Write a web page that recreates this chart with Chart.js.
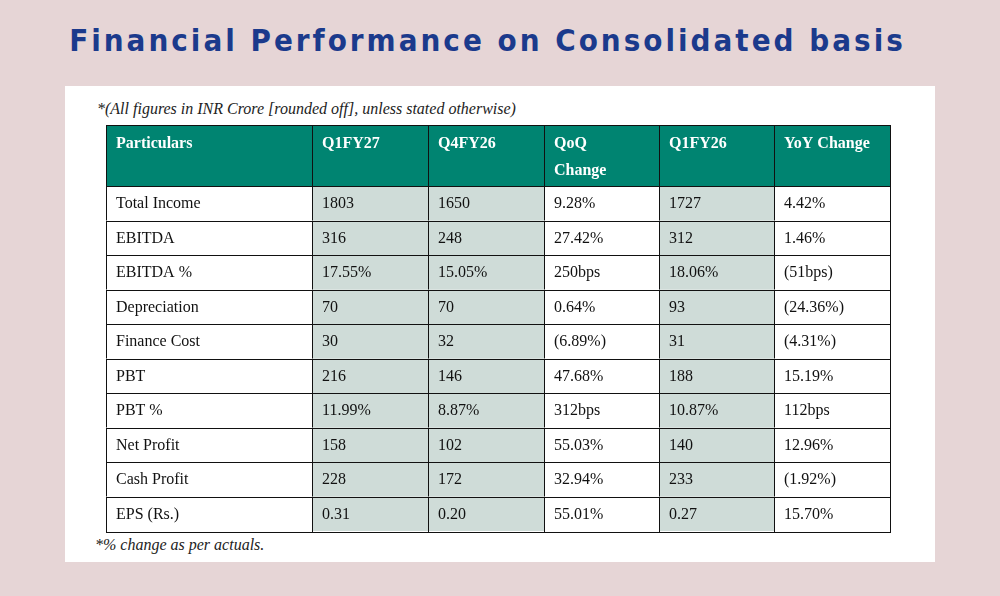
<!DOCTYPE html>
<html>
<head>
<meta charset="utf-8">
<script src="https://cdn.jsdelivr.net/npm/chart.js@4"></script>
<style>
  body { margin: 0; background: #e6d5d6; width: 1000px; height: 596px; overflow: hidden; position: relative; }
  #panel { position: absolute; left: 65px; top: 86px; width: 870px; height: 476px; background: #fff; }
  h1 { position: absolute; left: 0; width: 975px; top: 22px; margin: 0; text-align: center;
       font: bold 31px "DejaVu Sans Condensed", "DejaVu Sans", sans-serif; letter-spacing: 3px; color: #1b3a8c; }
  .note { position: absolute; font: italic 16px "Liberation Serif", serif; color: #222; }
  canvas { position: absolute; left: 0; top: 0; }
</style>
</head>
<body>
<div id="panel"></div>
<h1>Financial Performance on Consolidated basis</h1>
<div class="note" style="left:97px; top:100px;">*(All figures in INR Crore [rounded off], unless stated otherwise)</div>
<div class="note" style="left:95px; top:536px;">*% change as per actuals.</div>
<canvas id="table" width="1000" height="596"></canvas>
<script>
/** Table drawn on a Chart.js canvas through hidden linear scales. */

const headers = ['Particulars', 'Q1FY27', 'Q4FY26', 'QoQ\nChange', 'Q1FY26', 'YoY Change'];
const particulars = ['Total Income', 'EBITDA', 'EBITDA %', 'Depreciation', 'Finance Cost', 'PBT', 'PBT %', 'Net Profit', 'Cash Profit', 'EPS (Rs.)'];
const q1fy27 = ['1803', '316', '17.55%', '70', '30', '216', '11.99%', '158', '228', '0.31'];
const q4fy26 = ['1650', '248', '15.05%', '70', '32', '146', '8.87%', '102', '172', '0.20'];
const qoqChange = ['9.28%', '27.42%', '250bps', '0.64%', '(6.89%)', '47.68%', '312bps', '55.03%', '32.94%', '55.01%'];
const q1fy26 = ['1727', '312', '18.06%', '93', '31', '188', '10.87%', '140', '233', '0.27'];
const yoyChange = ['4.42%', '1.46%', '(51bps)', '(24.36%)', '(4.31%)', '15.19%', '112bps', '12.96%', '(1.92%)', '15.70%'];

// column boundaries and row boundaries in scale units
const colEdges = [0, 206, 322, 438, 553, 668, 784];
const rowEdges = [0, 61, 95.5, 130, 164.5, 199, 233.5, 268, 302.5, 337, 371.5, 406];
const shadedCols = [1, 2, 4];

const columns = [particulars, q1fy27, q4fy26, qoqChange, q1fy26, yoyChange];

const tablePlugin = {
    id: 'tablePlugin',
    afterDatasetsDraw(chart) {
        const ctx = chart.ctx;
        const x = chart.scales.x, y = chart.scales.y;
        ctx.save();
        ctx.lineWidth = 1;
        ctx.strokeStyle = '#111';
        for (let r = 0; r < rowEdges.length - 1; r++) {
            for (let c = 0; c < colEdges.length - 1; c++) {
                const x0 = x.getPixelForValue(colEdges[c]), x1 = x.getPixelForValue(colEdges[c + 1]);
                const y0 = y.getPixelForValue(rowEdges[r]), y1 = y.getPixelForValue(rowEdges[r + 1]);
                ctx.fillStyle = r === 0 ? '#008471' : (shadedCols.includes(c) ? '#cfdcd8' : '#ffffff');
                ctx.fillRect(x0, y0, x1 - x0, y1 - y0);
                ctx.strokeRect(Math.round(x0) + 0.5, Math.round(y0) + 0.5, Math.round(x1 - x0), Math.round(y1 - y0));
                ctx.textBaseline = 'middle';
                if (r === 0) {
                    ctx.font = 'bold 16px "Liberation Serif", serif';
                    ctx.fillStyle = '#ffffff';
                    headers[c].split('\n').forEach((line, i) => ctx.fillText(line, x0 + 10, y0 + 19 + i * 27));
                } else {
                    ctx.font = '16px "Liberation Serif", serif';
                    ctx.fillStyle = '#111';
                    ctx.fillText(columns[c][r - 1], x0 + 10, (y0 + y1) / 2 + 1);
                }
            }
        }
        ctx.restore();
    }
};

new Chart(document.getElementById('table'), {
    type: 'scatter',
    data: { datasets: [{ data: [] }] },
    options: {
        responsive: false,
        animation: false,
        layout: { padding: { left: 106, top: 125, right: 110, bottom: 65 } },
        plugins: { legend: { display: false }, tooltip: { enabled: false } },
        scales: {
            x: { type: 'linear', display: false, min: 0, max: 784 },
            y: { type: 'linear', display: false, min: 0, max: 406, reverse: true }
        }
    },
    plugins: [tablePlugin]
});
</script>
</body>
</html>
